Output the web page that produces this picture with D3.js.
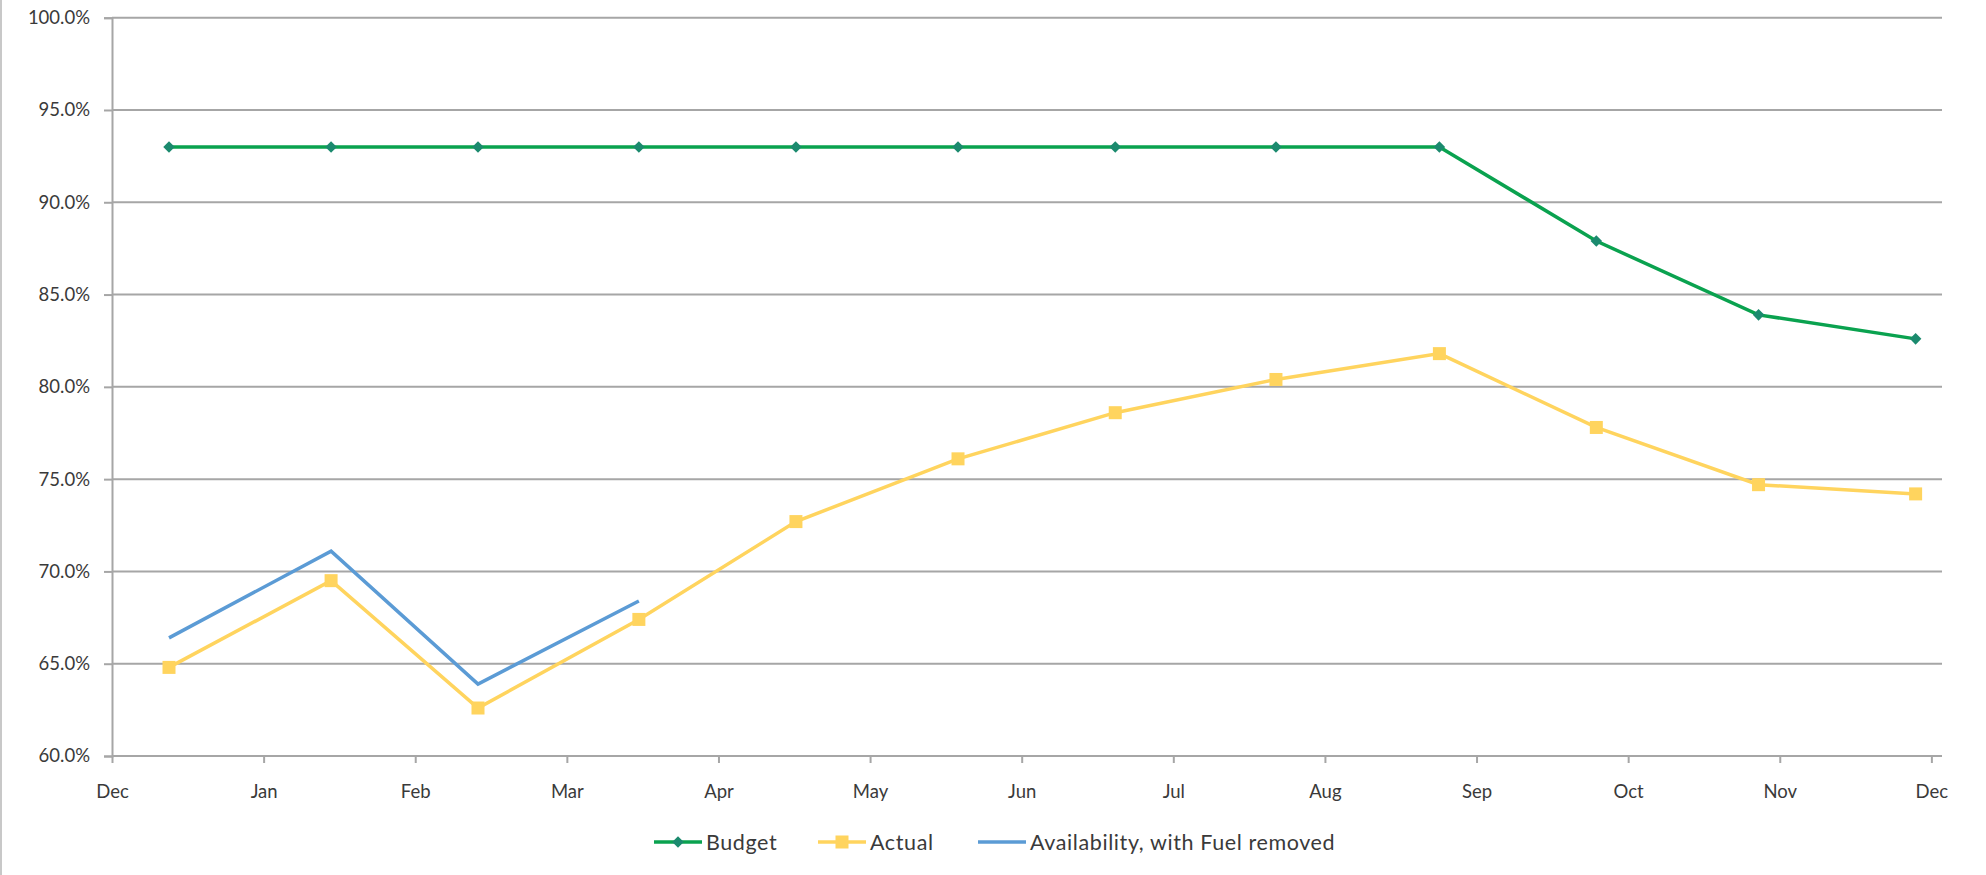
<!DOCTYPE html>
<html><head><meta charset="utf-8">
<script src="https://cdn.jsdelivr.net/npm/d3@7"></script>
<style>
html,body{margin:0;padding:0;background:#fff;}
svg text{font-family:Lato,"Open Sans",sans-serif;fill:#3a3a3a;}
</style></head>
<body><svg id="chart" width="1986" height="875"></svg>
<script>
// ---- data ----
const monthLabels = ["Dec","Jan","Feb","Mar","Apr","May","Jun","Jul","Aug","Sep","Oct","Nov","Dec"];
const pointPos = [0.376, 1.445, 2.414, 3.475, 4.511, 5.58, 6.617, 7.677, 8.755, 9.79, 10.86, 11.896];
const budget = [93.0, 93.0, 93.0, 93.0, 93.0, 93.0, 93.0, 93.0, 93.0, 87.9, 83.9, 82.6];
const actual = [64.8, 69.5, 62.6, 67.4, 72.7, 76.1, 78.6, 80.4, 81.8, 77.8, 74.7, 74.2];
const availability = [66.4, 71.1, 63.9, 68.4];
const yTicks = [60, 65, 70, 75, 80, 85, 90, 95, 100];
const seriesNames = ["Budget", "Actual", "Availability, with Fuel removed"];

(function(){
// ---- layout ----
const svg = d3.select("#chart");
const pLeft = 112, pRight = 1942, pTop = 17.7, pBottom = 756;
const x = d3.scaleLinear().domain([0, 12.07]).range([pLeft, pRight]);
const y = d3.scaleLinear().domain([60, 100]).range([pBottom, pTop]);
const gridColor = "#a6a6a6";
const cBudget = "#0aa24f", cBudgetMk = "#1b8a6e", cActual = "#ffd45e", cAvail = "#5b9bd5";
const lw = 3.5;

// chart border (left edge)
svg.append("line").attr("x1",1).attr("x2",1).attr("y1",0).attr("y2",875)
  .attr("stroke","#c8c8c8").attr("stroke-width",2);

// gridlines + y axis
const yAxis = d3.axisLeft(y).tickValues(yTicks).tickSize(8).tickPadding(14)
  .tickFormat(d => d.toFixed(1) + "%");
const gy = svg.append("g").attr("transform",`translate(${pLeft},0)`).call(yAxis);
gy.select(".domain").attr("stroke",gridColor).attr("stroke-width",2);
gy.selectAll(".tick line").attr("stroke",gridColor).attr("stroke-width",2);
gy.selectAll(".tick text").attr("font-size","18.5px").attr("fill","#3a3a3a")
  .style("font-family","Lato, sans-serif");
svg.append("g").selectAll("line").data(yTicks.filter(d=>d>60)).join("line")
  .attr("x1",pLeft).attr("x2",pRight).attr("y1",d=>y(d)).attr("y2",d=>y(d))
  .attr("stroke",gridColor).attr("stroke-width",2);

// x axis
const xAxis = d3.axisBottom(x).tickValues(d3.range(13)).tickSize(7).tickPadding(22)
  .tickFormat((d,i) => monthLabels[i]);
const gx = svg.append("g").attr("transform",`translate(0,${pBottom})`).call(xAxis);
gx.select(".domain").remove();
gx.append("line").attr("x1",pLeft).attr("x2",pRight).attr("stroke",gridColor).attr("stroke-width",2);
gx.selectAll(".tick line").attr("stroke",gridColor).attr("stroke-width",2);
gx.selectAll(".tick text").attr("font-size","18.5px").attr("fill","#3a3a3a")
  .style("font-family","Lato, sans-serif");

// lines
const line = d3.line().x(d=>x(d[0])).y(d=>y(d[1]));
const budgetPts = budget.map((v,i)=>[pointPos[i], v]);
const actualPts = actual.map((v,i)=>[pointPos[i], v]);
const availPts = availability.map((v,i)=>[pointPos[i], v]);

svg.append("path").datum(availPts).attr("d",line).attr("fill","none")
  .attr("stroke",cAvail).attr("stroke-width",lw);
svg.append("path").datum(actualPts).attr("d",line).attr("fill","none")
  .attr("stroke",cActual).attr("stroke-width",lw);
svg.append("path").datum(budgetPts).attr("d",line).attr("fill","none")
  .attr("stroke",cBudget).attr("stroke-width",lw);

// markers
const sq = 13;
svg.append("g").selectAll("rect").data(actualPts).join("rect")
  .attr("x",d=>x(d[0])-sq/2).attr("y",d=>y(d[1])-sq/2).attr("width",sq).attr("height",sq)
  .attr("fill",cActual);
const diamond = d3.symbol().type(d3.symbolDiamond2).size(85);
svg.append("g").selectAll("path").data(budgetPts).join("path")
  .attr("transform",d=>`translate(${x(d[0])},${y(d[1])})`).attr("d",diamond)
  .attr("fill",cBudgetMk);

// legend
const legY = 842;
const leg = svg.append("g");
const legItems = [
  {name: seriesNames[0], x0: 654, color: cBudget, mk: "diamond"},
  {name: seriesNames[1], x0: 818, color: cActual, mk: "square"},
  {name: seriesNames[2], x0: 978, color: cAvail, mk: null}
];
legItems.forEach(it => {
  const g = leg.append("g");
  g.append("line").attr("x1",it.x0).attr("x2",it.x0+48).attr("y1",legY).attr("y2",legY)
    .attr("stroke",it.color).attr("stroke-width",lw);
  if (it.mk === "diamond") {
    g.append("path").attr("transform",`translate(${it.x0+24},${legY})`).attr("d",diamond).attr("fill",cBudgetMk);
  } else if (it.mk === "square") {
    g.append("rect").attr("x",it.x0+24-sq/2).attr("y",legY-sq/2).attr("width",sq).attr("height",sq).attr("fill",it.color);
  }
  g.append("text").attr("x",it.x0+52).attr("y",legY).attr("dy","0.36em")
    .attr("font-size","21.5px").attr("letter-spacing","0.6px").text(it.name);
});
})();
</script></body></html>
